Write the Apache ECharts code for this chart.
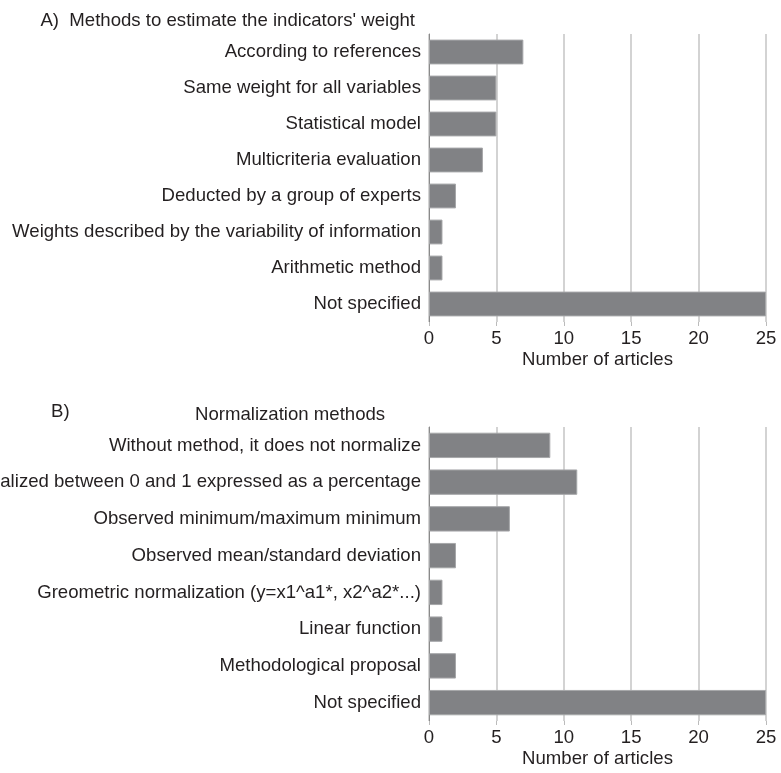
<!DOCTYPE html>
<html>
<head>
<meta charset="utf-8">
<script src="https://cdn.jsdelivr.net/npm/echarts@6/dist/echarts.min.js"></script>
<style>html,body{margin:0;padding:0;background:#fff}#c{width:781px;height:773px}</style>
</head>
<body>
<div id="c"></div>
<script>
var catsA = ["According to references","Same weight for all variables","Statistical model","Multicriteria evaluation","Deducted by a group of experts","Weights described by the variability of information","Arithmetic method","Not specified"];
var valsA = [7,5,5,4,2,1,1,25];
var catsB = ["Without method, it does not normalize","Normalized between 0 and 1 expressed as a percentage","Observed minimum/maximum minimum","Observed mean/standard deviation","Greometric normalization (y=x1^a1*, x2^a2*...)","Linear function","Methodological proposal","Not specified"];
var valsB = [9,11,6,2,1,1,2,25];
var xTicks = [0,5,10,15,20,25];

var FONT = "Liberation Sans, Arial, sans-serif";
var FS = 18.6;
var TXT = "#231f20";
var chart = echarts.init(document.getElementById('c'));
function xAxis(gi){
  return {
    type:'value', gridIndex:gi, min:0, max:25, interval:5,
    name:'Number of articles', nameLocation:'middle', nameGap:28,
    nameTextStyle:{fontFamily:FONT,fontSize:FS,color:TXT},
    axisLine:{show:false},
    axisTick:{show:true,length:4,lineStyle:{color:'#bbbbbb',width:1}},
    axisLabel:{fontFamily:FONT,fontSize:FS,color:TXT,margin:7,
      formatter:function(v){return xTicks.indexOf(v)>=0?String(v):'';}},
    splitLine:{show:true,lineStyle:{color:'#d3d3d3',width:2}}
  };
}
function yAxis(gi,cats){
  return {
    type:'category', gridIndex:gi, data:cats, inverse:true,
    axisLine:{show:true,lineStyle:{color:'#8a8a8a',width:1}},
    axisTick:{show:false},
    axisLabel:{fontFamily:FONT,fontSize:FS,color:TXT,margin:8},
    splitLine:{show:false}
  };
}
function bar(i,vals){
  return {
    type:'bar', xAxisIndex:i, yAxisIndex:i, data:vals,
    barCategoryGap:'31%',
    itemStyle:{color:'#818285',borderColor:'#a6a7a9',borderWidth:1},
    silent:true, animation:false
  };
}
chart.setOption({
  animation:false,
  title:[
    {text:"A)  Methods to estimate the indicators' weight", right:361, top:6,
      textStyle:{fontFamily:FONT,fontSize:FS,fontWeight:'normal',color:TXT}},
    {text:"B)", left:46, top:397,
      textStyle:{fontFamily:FONT,fontSize:FS,fontWeight:'normal',color:TXT}},
    {text:"Normalization methods", left:190, top:400,
      textStyle:{fontFamily:FONT,fontSize:FS,fontWeight:'normal',color:TXT}}
  ],
  grid:[
    {left:429, width:337, top:34, height:288, containLabel:false, outerBoundsMode:'none'},
    {left:429, width:337, top:427, height:294, containLabel:false, outerBoundsMode:'none'}
  ],
  xAxis:[xAxis(0),xAxis(1)],
  yAxis:[yAxis(0,catsA),yAxis(1,catsB)],
  series:[bar(0,valsA),bar(1,valsB)]
});
</script>
</body>
</html>
